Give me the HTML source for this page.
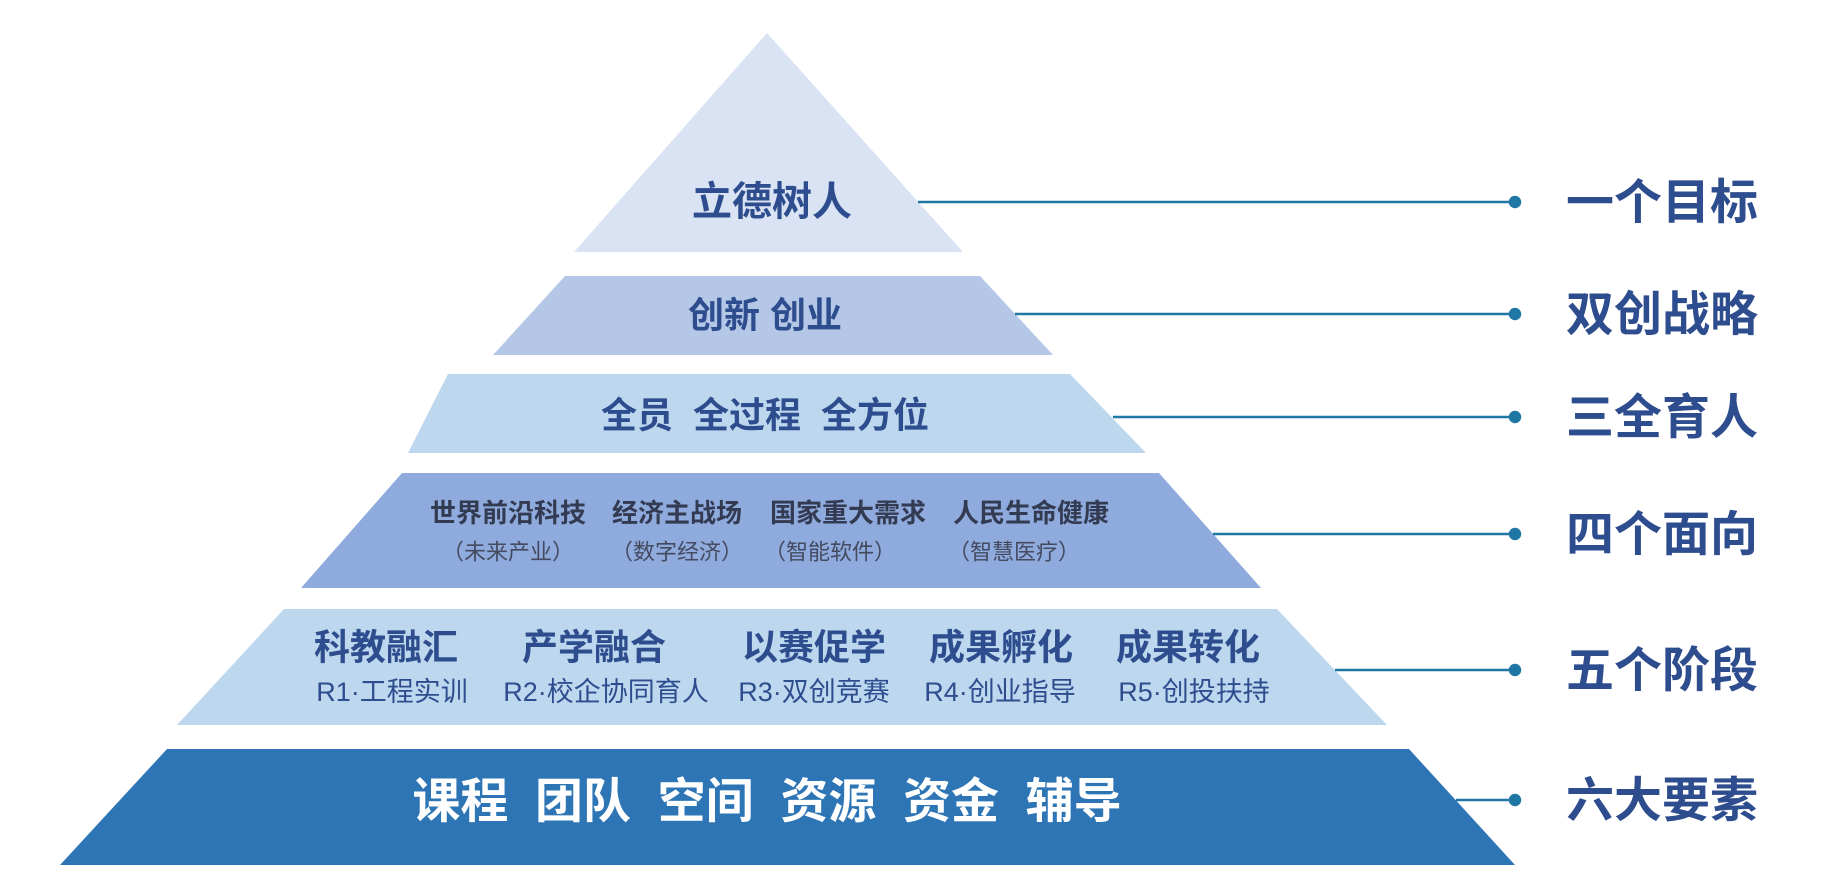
<!DOCTYPE html>
<html><head><meta charset="utf-8"><style>
html,body{margin:0;padding:0;background:#fff}
svg{display:block}
text{font-family:"Liberation Sans","Noto Sans CJK SC",sans-serif;text-anchor:middle;dominant-baseline:central}
</style></head><body>
<svg width="1823" height="893" viewBox="0 0 1823 893" xmlns="http://www.w3.org/2000/svg">
<polygon points="767,33 963,252 574,252" fill="#dae3f3"/>
<polygon points="565,276 980,276 1053,355 493,355" fill="#b4c7e7"/>
<polygon points="448,374 1070,374 1146,453 408,453" fill="#bdd7ee"/>
<polygon points="402,473 1159,473 1261,588 301,588" fill="#8faadc"/>
<polygon points="284,609 1277,609 1387,725 177,725" fill="#bdd7ee"/>
<polygon points="167,749 1409,749 1515,865 60,865" fill="#2e75b6"/>
<g stroke="#1f77a4" stroke-width="2.5" fill="#1f77a4">
<line x1="918" y1="202" x2="1515" y2="202"/><circle cx="1515" cy="202" r="5"/>
<line x1="1015" y1="314" x2="1515" y2="314"/><circle cx="1515" cy="314" r="5"/>
<line x1="1113" y1="417" x2="1515" y2="417"/><circle cx="1515" cy="417" r="5"/>
<line x1="1213" y1="534" x2="1515" y2="534"/><circle cx="1515" cy="534" r="5"/>
<line x1="1335" y1="670" x2="1515" y2="670"/><circle cx="1515" cy="670" r="5"/>
<line x1="1456" y1="800" x2="1515" y2="800"/><circle cx="1515" cy="800" r="5"/>
</g>
<g font-weight="bold" font-size="48" fill="#2e4d8e">
<text x="1662" y="203">一个目标</text>
<text x="1662" y="315">双创战略</text>
<text x="1662" y="418">三全育人</text>
<text x="1662" y="535">四个面向</text>
<text x="1662" y="671">五个阶段</text>
<text x="1662" y="801">六大要素</text>
</g>
<g font-weight="bold" fill="#2e4d8e">
<text x="772" y="202" font-size="40">立德树人</text>
<text x="765" y="315" font-size="36">创新 创业</text>
<text x="765" y="415" font-size="36" xml:space="preserve">全员  全过程  全方位</text>
</g>
<g font-weight="bold" font-size="26" fill="#333b52">
<text x="508" y="513">世界前沿科技</text>
<text x="677" y="513">经济主战场</text>
<text x="848" y="513">国家重大需求</text>
<text x="1031" y="513">人民生命健康</text>
</g>
<g font-size="22" fill="#444a60">
<text x="508" y="552">（未来产业）</text>
<text x="677" y="552">（数字经济）</text>
<text x="830" y="552">（智能软件）</text>
<text x="1014" y="552">（智慧医疗）</text>
</g>
<g font-weight="bold" font-size="36" fill="#2e4d8e">
<text x="386" y="647">科教融汇</text>
<text x="594" y="647">产学融合</text>
<text x="814" y="647">以赛促学</text>
<text x="1001" y="647">成果孵化</text>
<text x="1188" y="647">成果转化</text>
</g>
<g font-size="27" fill="#2e4d8e">
<text x="392" y="692">R1·工程实训</text>
<text x="606" y="692">R2·校企协同育人</text>
<text x="814" y="692">R3·双创竞赛</text>
<text x="1000" y="692">R4·创业指导</text>
<text x="1194" y="692">R5·创投扶持</text>
</g>
<text x="767" y="802" font-size="48" font-weight="bold" fill="#fff" xml:space="preserve">课程  团队  空间  资源  资金  辅导</text>
</svg>
</body></html>
